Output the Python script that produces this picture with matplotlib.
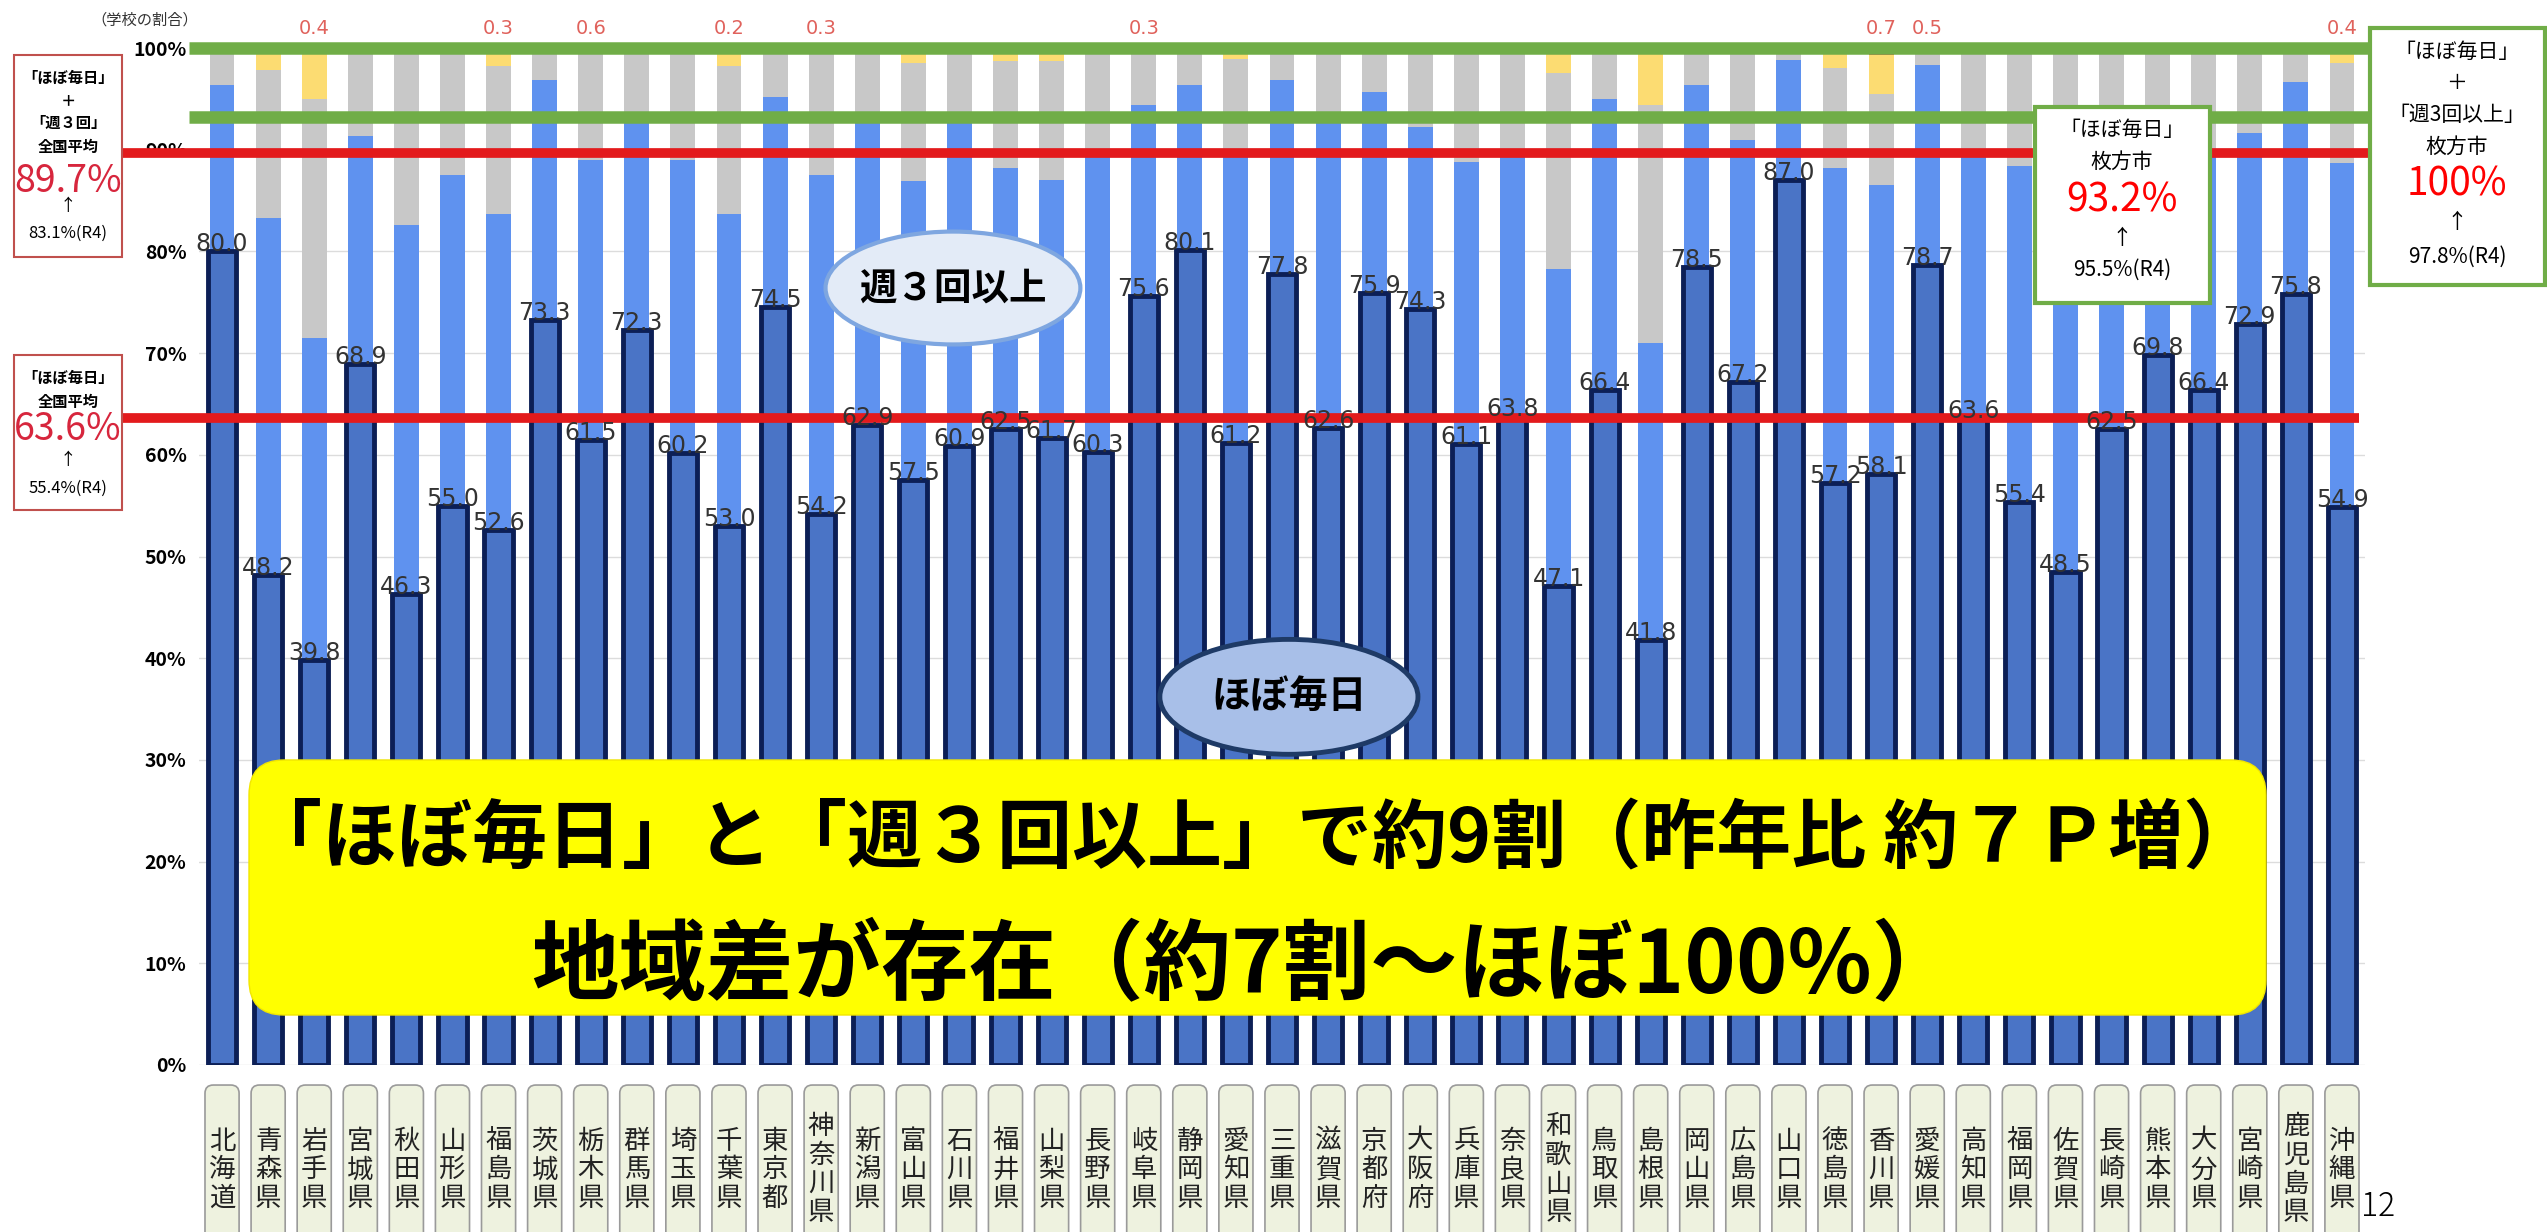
import matplotlib.pyplot as plt
from matplotlib.patches import Ellipse, FancyBboxPatch, Rectangle
from matplotlib.transforms import Affine2D, blended_transform_factory

plt.rcParams['font.family'] = ['Noto Sans CJK JP', 'DejaVu Sans']

# 都道府県別 学校の割合(%)
prefs = ['北海道', '青森県', '岩手県', '宮城県', '秋田県', '山形県', '福島県', '茨城県',
         '栃木県', '群馬県', '埼玉県', '千葉県', '東京都', '神奈川県', '新潟県', '富山県',
         '石川県', '福井県', '山梨県', '長野県', '岐阜県', '静岡県', '愛知県', '三重県',
         '滋賀県', '京都府', '大阪府', '兵庫県', '奈良県', '和歌山県', '鳥取県', '島根県',
         '岡山県', '広島県', '山口県', '徳島県', '香川県', '愛媛県', '高知県', '福岡県',
         '佐賀県', '長崎県', '熊本県', '大分県', '宮崎県', '鹿児島県', '沖縄県']
daily = [80.0, 48.2, 39.8, 68.9, 46.3, 55.0, 52.6, 73.3, 61.5, 72.3, 60.2, 53.0,
         74.5, 54.2, 62.9, 57.5, 60.9, 62.5, 61.7, 60.3, 75.6, 80.1, 61.2, 77.8,
         62.6, 75.9, 74.3, 61.1, 63.8, 47.1, 66.4, 41.8, 78.5, 67.2, 87.0, 57.2,
         58.1, 78.7, 63.6, 55.4, 48.5, 62.5, 69.8, 66.4, 72.9, 75.8, 54.9]
thrice = [16.4, 35.1, 31.7, 22.4, 36.3, 32.5, 31.1, 23.6, 27.5, 20.8, 28.8, 30.7,
          20.7, 33.3, 30.0, 29.4, 32.0, 25.7, 25.3, 29.0, 18.8, 16.3, 28.1, 19.1,
          30.0, 19.8, 17.9, 27.7, 26.2, 31.2, 28.6, 29.2, 17.9, 23.8, 11.8, 31.0,
          28.4, 19.6, 25.7, 33.0, 39.5, 27.5, 22.2, 23.1, 18.7, 20.9, 33.8]
weekly = [3.6, 14.5, 23.5, 8.7, 17.4, 12.5, 14.5, 3.1, 10.9, 6.9, 11.0, 14.5,
          4.8, 12.2, 7.1, 11.6, 7.1, 10.5, 11.7, 10.2, 5.3, 3.6, 9.6, 3.1,
          7.4, 4.3, 7.8, 11.2, 10.0, 19.2, 4.4, 23.4, 3.6, 9.0, 1.2, 9.8,
          9.0, 1.2, 10.7, 11.6, 11.5, 10.0, 7.5, 10.5, 8.4, 3.3, 9.8]
rarely = [0, 2.2, 4.6, 0, 0, 0, 1.5, 0, 0, 0, 0, 1.6,
          0, 0, 0, 1.5, 0, 1.3, 1.3, 0.5, 0, 0, 1.1, 0,
          0, 0, 0, 0, 0, 2.5, 0.6, 5.6, 0, 0, 0, 2.0,
          3.8, 0, 0, 0, 0.5, 0, 0.5, 0, 0, 0, 1.1]
never = [0, 0, 0.4, 0, 0, 0, 0.3, 0, 0.6, 0, 0, 0.2,
         0, 0.3, 0, 0, 0, 0, 0, 0, 0.3, 0, 0, 0,
         0, 0, 0, 0, 0, 0, 0, 0, 0, 0, 0, 0,
         0.7, 0.5, 0, 0, 0, 0, 0, 0, 0, 0, 0.4]

national_total = 89.7   # 「ほぼ毎日」+「週3回」全国平均
national_daily = 63.6   # 「ほぼ毎日」全国平均
city_daily = 93.2       # 枚方市
city_total = 100.0

NAVY_FACE = '#4a74c6'
NAVY_EDGE = '#0c1f56'
LIGHT = '#5f92ef'
GRAY = '#c8c8c8'
YELLOW = '#fcdc72'
RED_SEG = '#e8574f'

W, H, DPI = 2547, 1232, 100
fig = plt.figure(figsize=(W / DPI, H / DPI), dpi=DPI)
ax = fig.add_axes([199 / W, 1 - 1065 / H, 2166 / W, 1017 / H])
# pixel coordinates measured from the top-left corner of the figure
px = Affine2D().scale(1 / DPI, -1 / DPI).translate(0, H / DPI) + fig.dpi_scale_trans

x = list(range(len(prefs)))
b1 = [d + t for d, t in zip(daily, thrice)]
b2 = [b + w for b, w in zip(b1, weekly)]
b3 = [b + r for b, r in zip(b2, rarely)]

ax.bar(x, thrice, 0.54, bottom=daily, color=LIGHT, zorder=2)
ax.bar(x, weekly, 0.54, bottom=b1, color=GRAY, zorder=2)
ax.bar(x, rarely, 0.54, bottom=b2, color=YELLOW, zorder=2)
ax.bar(x, never, 0.54, bottom=b3, color=RED_SEG, zorder=2)
ax.bar(x, daily, 0.61, color=NAVY_FACE, edgecolor=NAVY_EDGE, linewidth=3.5, zorder=3)

for i, v in enumerate(daily):
    ax.text(i, v, f'{v:.1f}', ha='center', va='baseline', fontsize=17,
            color='#333333', family='DejaVu Sans', zorder=6)
for i, v in enumerate(never):
    if v > 0:
        ax.text(i, 101.9, f'{v:.1f}', ha='center', va='center', fontsize=14,
                color='#e0625c', family='DejaVu Sans', clip_on=False)

ax.set_xlim(-0.5, len(prefs) - 0.5)
ax.set_ylim(0, 100)
ax.set_yticks(range(0, 101, 10))
ax.set_yticklabels([f'{v}%' for v in range(0, 101, 10)], fontsize=14, fontweight='bold')
ax.tick_params(axis='y', length=0, pad=9)
ax.set_xticks([])
for s in ax.spines.values():
    s.set_visible(False)
ax.yaxis.grid(True, color='#dcdcdc', linewidth=1)
ax.set_axisbelow(True)

# reference levels
ax.hlines([city_total, city_daily], -0.72, 46.6, colors='#70ad47', linewidth=9,
          zorder=5, clip_on=False)
ax.hlines(national_total, -2.15, 46.6, colors='#e31a1c', linewidth=7, zorder=5, clip_on=False)
ax.hlines(national_daily, -2.15, 46.38, colors='#e31a1c', linewidth=7, zorder=5, clip_on=False)

# category bubbles
ax.add_patch(Ellipse((15.86, 76.4), 5.53, 11.1, facecolor='#e3ebf7', edgecolor='#7ea6e0',
                     linewidth=3, zorder=7))
ax.text(15.86, 76.4, '週３回以上', ha='center', va='center', fontsize=27,
        fontweight='bold', zorder=8)
ax.add_patch(Ellipse((23.15, 36.2), 5.6, 11.3, facecolor='#a8bfe8', edgecolor='#1e3a66',
                     linewidth=3.5, zorder=7))
ax.text(23.15, 36.2, 'ほぼ毎日', ha='center', va='center', fontsize=28,
        fontweight='bold', zorder=8)

# prefecture name boxes
trans = blended_transform_factory(ax.transData, ax.transAxes)
bb = ax.get_window_extent()
m = (bb.width / len(prefs)) / bb.height
for i, name in enumerate(prefs):
    ax.add_patch(FancyBboxPatch((i - 0.37, -0.3), 0.74, 0.3 - 0.0197,
                                boxstyle='round,pad=0,rounding_size=0.18', mutation_aspect=m,
                                transform=trans, clip_on=False, facecolor='#eef2df',
                                edgecolor='#9a9a9a', linewidth=1.2))
    ax.text(i, -0.103, '\n'.join(name), transform=trans, ha='center', va='center',
            fontsize=19, linespacing=1.08, color='#222222', clip_on=False)

# headline banner
fig.patches.append(FancyBboxPatch((249, 760), 2017, 255, boxstyle='round,pad=0,rounding_size=35',
                                  transform=px, facecolor='#ffff00', edgecolor='#f2e600',
                                  linewidth=1))
fig.text(1253, 840, '「ほぼ毎日」と「週３回以上」で約9割（昨年比 約７Ｐ増）', transform=px,
         ha='center', va='center', fontsize=54, fontweight='bold')
fig.text(1245, 967, '地域差が存在（約7割～ほぼ100%）', transform=px,
         ha='center', va='center', fontsize=63, fontweight='bold')

fig.text(145, 20, '（学校の割合）', transform=px, ha='center', va='center', fontsize=11,
         color='#333333')

# national average boxes
fig.patches.append(Rectangle((14, 55), 108, 202, transform=px, facecolor='white',
                             edgecolor='#c0504d', linewidth=1.5))
for yy, s in [(78, '「ほぼ毎日」'), (100, '＋'), (123, '「週３回」'), (147, '全国平均')]:
    fig.text(68, yy, s, transform=px, ha='center', va='center', fontsize=11, fontweight='bold')
fig.text(68, 182, f'{national_total}%', transform=px, ha='center', va='center', fontsize=27,
         color='#d7263d')
fig.text(68, 207, '↑', transform=px, ha='center', va='center', fontsize=12)
fig.text(68, 233, '83.1%(R4)', transform=px, ha='center', va='center', fontsize=12)

fig.patches.append(Rectangle((14, 355), 108, 155, transform=px, facecolor='white',
                             edgecolor='#c0504d', linewidth=1.5))
for yy, s in [(378, '「ほぼ毎日」'), (402, '全国平均')]:
    fig.text(68, yy, s, transform=px, ha='center', va='center', fontsize=11, fontweight='bold')
fig.text(68, 430, f'{national_daily}%', transform=px, ha='center', va='center', fontsize=27,
         color='#d7263d')
fig.text(68, 460, '↑', transform=px, ha='center', va='center', fontsize=12)
fig.text(68, 488, '55.4%(R4)', transform=px, ha='center', va='center', fontsize=12)

# city boxes
fig.patches.append(Rectangle((2035, 107), 175, 196, transform=px, facecolor='white',
                             edgecolor='#70ad47', linewidth=3))
fig.text(2122, 130, '「ほぼ毎日」', transform=px, ha='center', va='center', fontsize=15)
fig.text(2122, 162, '枚方市', transform=px, ha='center', va='center', fontsize=15)
fig.text(2122, 200, f'{city_daily}%', transform=px, ha='center', va='center', fontsize=28,
         color='#ff0000')
fig.text(2122, 238, '↑', transform=px, ha='center', va='center', fontsize=15)
fig.text(2122, 270, '95.5%(R4)', transform=px, ha='center', va='center', fontsize=15)

fig.patches.append(Rectangle((2370, 28), 175, 257, transform=px, facecolor='white',
                             edgecolor='#70ad47', linewidth=3))
for yy, s in [(52, '「ほぼ毎日」'), (83, '＋'), (115, '「週3回以上」'), (147, '枚方市')]:
    fig.text(2457, yy, s, transform=px, ha='center', va='center', fontsize=15)
fig.text(2457, 185, f'{city_total:.0f}%', transform=px, ha='center', va='center', fontsize=28,
         color='#ff0000')
fig.text(2457, 222, '↑', transform=px, ha='center', va='center', fontsize=15)
fig.text(2457, 257, '97.8%(R4)', transform=px, ha='center', va='center', fontsize=15)

fig.text(2378, 1190, '12', transform=px, ha='center', va='top', fontsize=23,
         fontweight='light')

fig.savefig('out.png', dpi=DPI)
